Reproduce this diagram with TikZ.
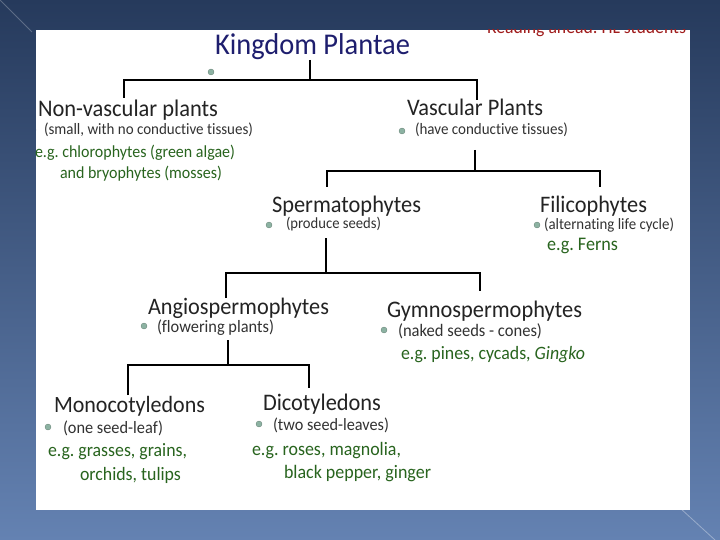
\documentclass[tikz,border=0pt]{standalone}
\usepackage{fontspec}
\setmainfont{Carlito}[Ligatures=NoCommon]
\usepackage{graphicx}
\frenchspacing
\definecolor{bgtop}{RGB}{38,58,92}
\definecolor{bgbot}{RGB}{100,130,178}
\definecolor{titlec}{RGB}{30,30,110}
\definecolor{headc}{RGB}{35,35,35}
\definecolor{subc}{RGB}{50,50,50}
\definecolor{greenc}{RGB}{40,100,30}
\definecolor{redc}{RGB}{160,28,28}
\definecolor{bullc}{RGB}{140,178,162}
\newcommand{\fitw}[2]{\scalebox{1}[1.06]{\resizebox{#1pt}{!}{\frenchspacing #2}}}
\begin{document}
\begin{tikzpicture}[x=1pt,y=-1pt,
  lbl/.style={anchor=base west, inner sep=0pt, outer sep=0pt},
  head/.style={lbl, text=headc, font=\fontsize{22}{26}\selectfont},
  sub/.style={lbl, text=subc, font=\fontsize{15}{18}\selectfont},
  eg/.style={lbl, text=greenc, font=\fontsize{16}{19}\selectfont},
  link/.style={draw=black, line width=2pt},
  bul/.style={circle, inner sep=0pt, minimum size=6pt, fill=bullc, draw=bullc!70!black, line width=0.3pt}]
\useasboundingbox (0,0) rectangle (720,540);
\shade[top color=bgtop, bottom color=bgbot] (0,0) rectangle (720,540);
\draw[white, opacity=0.25, line width=0.8pt] (0,0) -- (32,32);
\draw[white, opacity=0.35, line width=0.8pt] (680,508) -- (715,540);
\fill[white] (36,30) rectangle (690,510);
\begin{scope}
  \clip (36,30) rectangle (690,510);
  \node[lbl, text=redc, font=\fontsize{16}{19}\selectfont] (note) at (487,34) {\fitw{199}{Reading ahead: HL students}};
  \node[bul] (b2) at (33,130) {};
\end{scope}
% title
\node[lbl, text=titlec, font=\fontsize{28}{32}\selectfont] (title) at (215,55) {\fitw{195}{Kingdom Plantae}};
\node[bul] (b1) at (211,72) {};
% level 1
\node[head] (nonvasc) at (38,117) {\fitw{180}{Non-vascular plants}};
\node[sub] (nonvascs) at (44,135) {\fitw{209}{(small, with no conductive tissues)}};
\node[eg] (nonvasce1) at (35,158) {\fitw{200}{e.g. chlorophytes (green algae)}};
\node[eg] (nonvasce2) at (60,179) {\fitw{162}{and bryophytes (mosses)}};
\node[head] (vasc) at (407,116) {\fitw{136}{Vascular Plants}};
\node[bul] (b3) at (402,131) {};
\node[sub] (vascs) at (415,135) {\fitw{153}{(have conductive tissues)}};
% level 2
\node[head] (sperm) at (272,212) {\fitw{149}{Spermatophytes}};
\node[bul] (b4) at (269,225) {};
\node[sub] (sperms) at (286,229) {\fitw{95}{(produce seeds)}};
\node[head] (fili) at (540,212) {\fitw{107}{Filicophytes}};
\node[bul] (b5) at (537,225) {};
\node[sub] (filis) at (544,229) {\fitw{130}{(alternating life cycle)}};
\node[eg] (filie) at (547,251) {\fitw{71}{e.g. Ferns}};
% level 3
\node[head] (angio) at (148,314) {\fitw{181}{Angiospermophytes}};
\node[bul] (b6) at (144,326) {};
\node[sub] (angios) at (157,332) {\fitw{117}{(flowering plants)}};
\node[head] (gymno) at (387,317) {\fitw{195}{Gymnospermophytes}};
\node[bul] (b7) at (384,330) {};
\node[sub] (gymnos) at (398,336) {\fitw{144}{(naked seeds - cones)}};
\node[eg] (gymnoe) at (401,359) {\fitw{184}{e.g. pines, cycads, \textit{Gingko}}};
% level 4
\node[head] (mono) at (54,412) {\fitw{151}{Monocotyledons}};
\node[bul] (b8) at (48,427) {};
\node[sub] (monos) at (63,433) {\fitw{100}{(one seed-leaf)}};
\node[eg] (monoe1) at (48,456) {\fitw{139}{e.g. grasses, grains,}};
\node[eg] (monoe2) at (80,480) {\fitw{101}{orchids, tulips}};
\node[head] (dico) at (263,410) {\fitw{118}{Dicotyledons}};
\node[bul] (b9) at (259,424) {};
\node[sub] (dicos) at (273,430) {\fitw{116}{(two seed-leaves)}};
\node[eg] (dicoe1) at (252,455) {\fitw{149}{e.g. roses, magnolia,}};
\node[eg] (dicoe2) at (284,478) {\fitw{147}{black pepper, ginger}};
% connectors
\coordinate (t0) at (310,60);
\coordinate (t1) at (310,80);
\coordinate (t1l) at (124,80);
\coordinate (t1r) at (477,80);
\coordinate (t1ld) at (124,98);
\coordinate (t1rd) at (477,100);
\draw[link] (t0) -- (t1);
\draw[link] (t1ld) -- (t1l) -- (t1r) -- (t1rd);
\coordinate (v0) at (475,150);
\coordinate (v1) at (475,171);
\coordinate (v1l) at (327,171);
\coordinate (v1r) at (600,171);
\coordinate (v1ld) at (327,187);
\coordinate (v1rd) at (600,187);
\draw[link] (v0) -- (v1);
\draw[link] (v1ld) -- (v1l) -- (v1r) -- (v1rd);
\coordinate (s0) at (326,238);
\coordinate (s1) at (326,273);
\coordinate (s1l) at (226,273);
\coordinate (s1r) at (480,273);
\coordinate (s1ld) at (226,298);
\coordinate (s1rd) at (480,291);
\draw[link] (s0) -- (s1);
\draw[link] (s1ld) -- (s1l) -- (s1r) -- (s1rd);
\coordinate (a0) at (228,340);
\coordinate (a1) at (228,365);
\coordinate (a1l) at (128,365);
\coordinate (a1r) at (309,365);
\coordinate (a1ld) at (128,395);
\coordinate (a1rd) at (309,388);
\draw[link] (a0) -- (a1);
\draw[link] (a1ld) -- (a1l) -- (a1r) -- (a1rd);
\end{tikzpicture}
\end{document}
